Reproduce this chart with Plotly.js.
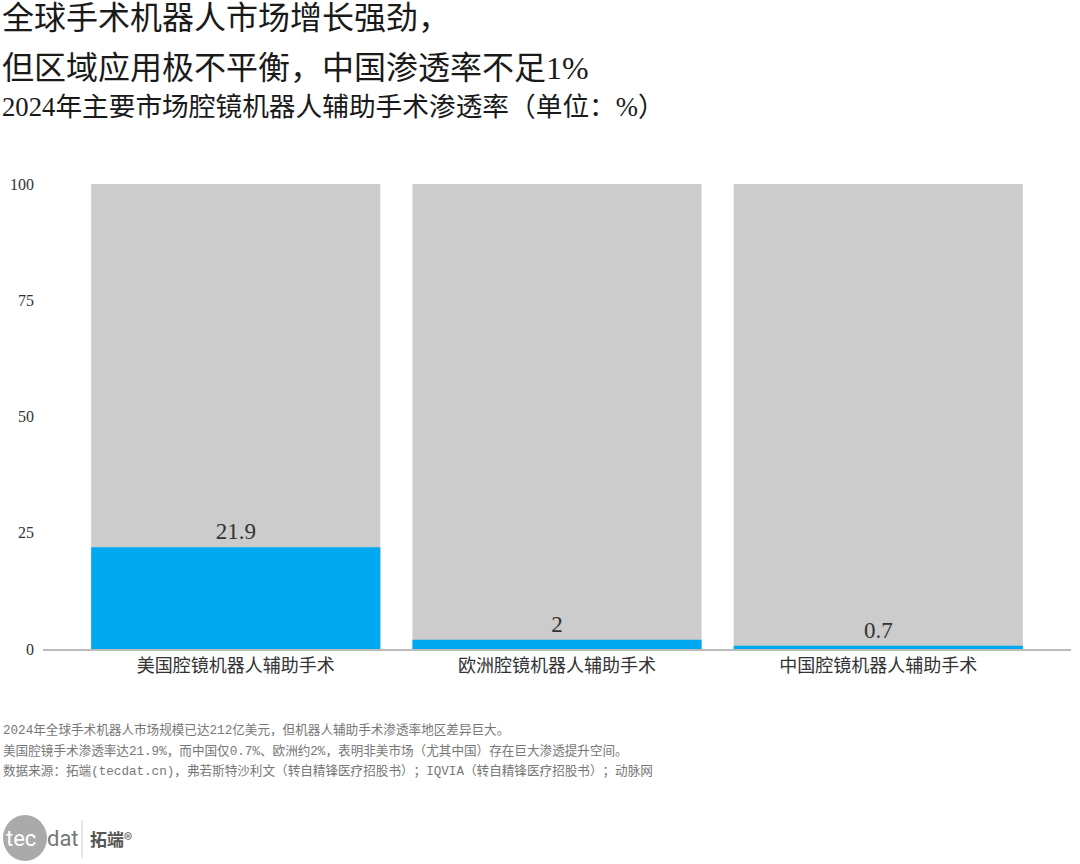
<!DOCTYPE html>
<html><head><meta charset="utf-8">
<script src="https://cdn.plot.ly/plotly-3.0.1.min.js"></script>
<style>body{margin:0;background:#fff}#chart{width:1080px;height:864px}
svg text, svg tspan{text-spacing-trim:space-all;}</style>
</head><body><div id="chart"></div>
<script>
const categories = ["美国腔镜机器人辅助手术", "欧洲腔镜机器人辅助手术", "中国腔镜机器人辅助手术"];
const penetration = [21.9, 2, 0.7];
const totalScale = [100, 100, 100];
const yTicks = [0, 25, 50, 75, 100];
const titleLines = ["全球手术机器人市场增长强劲，", "但区域应用极不平衡，中国渗透率不足1%"];
const subtitle = "2024年主要市场腔镜机器人辅助手术渗透率（单位：%）";
const notes = [
  "2024年全球手术机器人市场规模已达212亿美元，但机器人辅助手术渗透率地区差异巨大。",
  "美国腔镜手术渗透率达21.9%，而中国仅0.7%、欧洲约2%，表明非美市场（尤其中国）存在巨大渗透提升空间。",
  "数据来源：拓端(tecdat.cn)，弗若斯特沙利文（转自精锋医疗招股书）；IQVIA（转自精锋医疗招股书）；动脉网"
];
const FONT = "'Liberation Serif', 'DejaVu Serif', 'Noto Sans CJK SC', serif";
const monoLatin = s => s.replace(/[\x21-\x7e]+/g, m => `<span style="font-family:'Liberation Mono'">${m}</span>`);

const traces = [
  {type: 'bar', x: categories, y: totalScale, marker: {color: '#cccccc'}, hoverinfo: 'skip', showlegend: false},
  {type: 'bar', x: categories, y: penetration, marker: {color: '#00a8ef'},
   text: penetration.map(String), textposition: 'outside', cliponaxis: false,
   textfont: {family: FONT, size: 23, color: '#333'}, showlegend: false}
];

const headSpecs = [
  {text: titleLines[0], y: 18, size: 32},
  {text: titleLines[1], y: 68, size: 32},
  {text: subtitle, y: 107, size: 26.7},
];
const annotations = headSpecs.map(a => ({
  text: a.text, xref: 'paper', yref: 'paper', xanchor: 'left', yanchor: 'middle',
  x: -43/1028, y: 1 + (184 - a.y) / 465, showarrow: false,
  font: {family: FONT, size: a.size, color: '#1a1a1a'}
}));
notes.forEach((t, i) => annotations.push({
  text: monoLatin(t), xref: 'paper', yref: 'paper', xanchor: 'left', yanchor: 'middle',
  x: -42/1028, y: -(730 + i * 20.5 - 649) / 465, showarrow: false,
  font: {family: FONT, size: 12.6, color: '#777'}
}));
// logo
annotations.push({text: 'tec', xref: 'paper', yref: 'paper', xanchor: 'left', yanchor: 'middle',
  x: -39/1028, y: -(838 - 649) / 465, showarrow: false, font: {family: 'Roboto, Arial', size: 22, color: '#fff'}});
annotations.push({text: 'dat', xref: 'paper', yref: 'paper', xanchor: 'left', yanchor: 'middle',
  x: 2/1028, y: -(838 - 649) / 465, showarrow: false, font: {family: 'Roboto, Arial', size: 22, color: '#777'}});
annotations.push({text: '<b>拓端</b>®', xref: 'paper', yref: 'paper', xanchor: 'left', yanchor: 'middle',
  x: 45/1028, y: -(838 - 649) / 465, showarrow: false, font: {family: "'Noto Sans CJK SC'", size: 17, color: '#555'}});

const shapes = [
  {type: 'circle', xref: 'paper', yref: 'paper', x0: -40/1028, x1: 4/1028,
   y0: -(861 - 649)/465, y1: -(815 - 649)/465, fillcolor: '#aaaaaa', line: {width: 0}, layer: 'below'},
  {type: 'line', xref: 'paper', yref: 'paper', x0: 39/1028, x1: 39/1028,
   y0: -(858 - 649)/465, y1: -(820 - 649)/465, line: {color: '#ccc', width: 1}}
];

const layout = {
  width: 1080, height: 864,
  margin: {l: 43, r: 9, t: 184, b: 215, pad: 0},
  paper_bgcolor: '#fff', plot_bgcolor: '#fff',
  barmode: 'overlay', bargap: 0.1,
  font: {family: FONT, color: '#333'},
  xaxis: {range: [-0.6, 2.6], showline: true, linecolor: '#bbbbbb', linewidth: 1.5,
          ticks: '', tickfont: {family: FONT, size: 18, color: '#333'}, showgrid: false, zeroline: false,
          fixedrange: true},
  yaxis: {range: [0, 100], tickvals: yTicks, ticktext: yTicks.map(String), showgrid: false, zeroline: false,
          showline: false, ticks: '', tickfont: {family: FONT, size: 16, color: '#333'}, ticklabelstandoff: 8},
  annotations, shapes
};
Plotly.newPlot('chart', traces, layout, {displayModeBar: false, staticPlot: true});
</script></body></html>
